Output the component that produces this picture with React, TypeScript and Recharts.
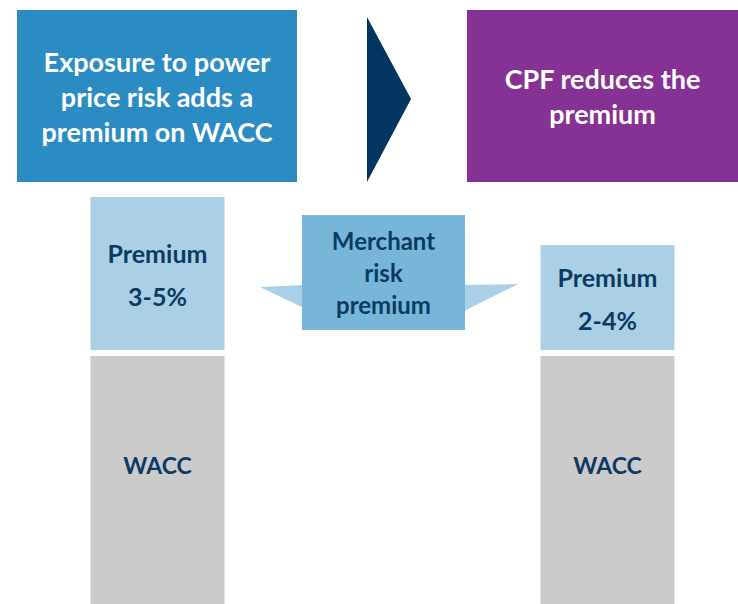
import { Bar, BarChart, LabelList, XAxis, YAxis } from "recharts";

const stages = ["Exposed", "Merchant risk premium", "CPF"];
const wacc = [6.7, null, 6.7];
const premium = [4.3, null, 3.0];
const premiumRange = ["3-5%", "", "2-4%"];
const waccLabel = ["WACC", "", "WACC"];
const headerLeft = ["Exposure to power", "price risk adds a", "premium on WACC"];
const headerRight = ["CPF reduces the", "premium"];
const calloutLines = ["Merchant", "risk", "premium"];

const FONT = "Lato, 'Open Sans', sans-serif";
const NAVY = "#0b3a63";

const data = stages.map((s, i) => ({
  stage: s,
  wacc: wacc[i],
  premium: premium[i],
  range: premiumRange[i],
  waccLabel: waccLabel[i],
}));

/** premium segment with a white gap under it */
function PremiumShape(props: any) {
  const { x, y, width, height } = props;
  if (!height) return null;
  return <rect x={x} y={y} width={width} height={Math.max(0, height - 6)} fill="#abd0e6" />;
}

function PremiumLabel(props: any) {
  const { x, y, width, height, value } = props;
  if (!value) return null;
  const cx = x + width / 2;
  const cy = y + (height - 6) / 2;
  return (
    <text x={cx} textAnchor="middle" fill={NAVY} fontFamily={FONT} fontWeight={700} fontSize={25}>
      <tspan x={cx} y={cy - 21} dominantBaseline="central">Premium</tspan>
      <tspan x={cx} y={cy + 22} dominantBaseline="central">{value}</tspan>
    </text>
  );
}

function WaccLabel(props: any) {
  const { x, y, width, height, value } = props;
  if (!value) return null;
  return (
    <text
      x={x + width / 2}
      y={y + height / 2 - 15}
      textAnchor="middle"
      dominantBaseline="central"
      fill={NAVY}
      fontFamily={FONT}
      fontWeight={700}
      fontSize={23}
    >
      {value}
    </text>
  );
}

function HeaderBox({ lines, left, width, bg }: { lines: string[]; left: number; width: number; bg: string }) {
  return (
    <div
      style={{
        position: "absolute",
        left,
        top: 10,
        width,
        height: 172,
        background: bg,
        color: "#fff",
        fontFamily: FONT,
        fontWeight: 700,
        fontSize: 27,
        lineHeight: "35px",
        display: "flex",
        flexDirection: "column",
        alignItems: "center",
        justifyContent: "center",
        textAlign: "center",
      }}
    >
      {lines.map((l) => (
        <div key={l}>{l}</div>
      ))}
    </div>
  );
}

export default function App() {
  return (
    <div
      style={{
        position: "fixed",
        left: 0,
        top: 0,
        width: 738,
        height: 604,
        overflow: "hidden",
        background: "#fff",
      }}
    >
      <BarChart width={738} height={604} data={data} margin={{ top: 178.5, right: 18.5, left: 44.5, bottom: 0 }}>
        <XAxis dataKey="stage" hide />
        <YAxis hide domain={[0, 11.5]} allowDataOverflow />
        <Bar dataKey="wacc" stackId="a" fill="#cbcbcb" barSize={134} isAnimationActive={false}>
          <LabelList dataKey="waccLabel" content={WaccLabel} />
        </Bar>
        <Bar dataKey="premium" stackId="a" fill="#abd0e6" barSize={134} shape={PremiumShape} isAnimationActive={false}>
          <LabelList dataKey="range" content={PremiumLabel} />
        </Bar>
      </BarChart>

      <HeaderBox lines={headerLeft} left={17} width={280} bg="#2b8cc3" />
      <HeaderBox lines={headerRight} left={467} width={271} bg="#863294" />

      <svg width={738} height={604} style={{ position: "absolute", left: 0, top: 0, pointerEvents: "none" }}>
        <polygon points="367,17 411,99 367,182" fill="#02355f" />
        <polygon points="260,287 304,285 304,308" fill="#a9d0e6" />
        <polygon points="462,285 518,284 462,312" fill="#a9d0e6" />
      </svg>

      <div
        style={{
          position: "absolute",
          left: 302,
          top: 215,
          width: 163,
          height: 115,
          background: "#77b6d9",
          color: NAVY,
          fontFamily: FONT,
          fontWeight: 700,
          fontSize: 24,
          lineHeight: "32px",
          display: "flex",
          flexDirection: "column",
          alignItems: "center",
          justifyContent: "center",
          textAlign: "center",
        }}
      >
        {calloutLines.map((l) => (
          <div key={l}>{l}</div>
        ))}
      </div>
    </div>
  );
}
